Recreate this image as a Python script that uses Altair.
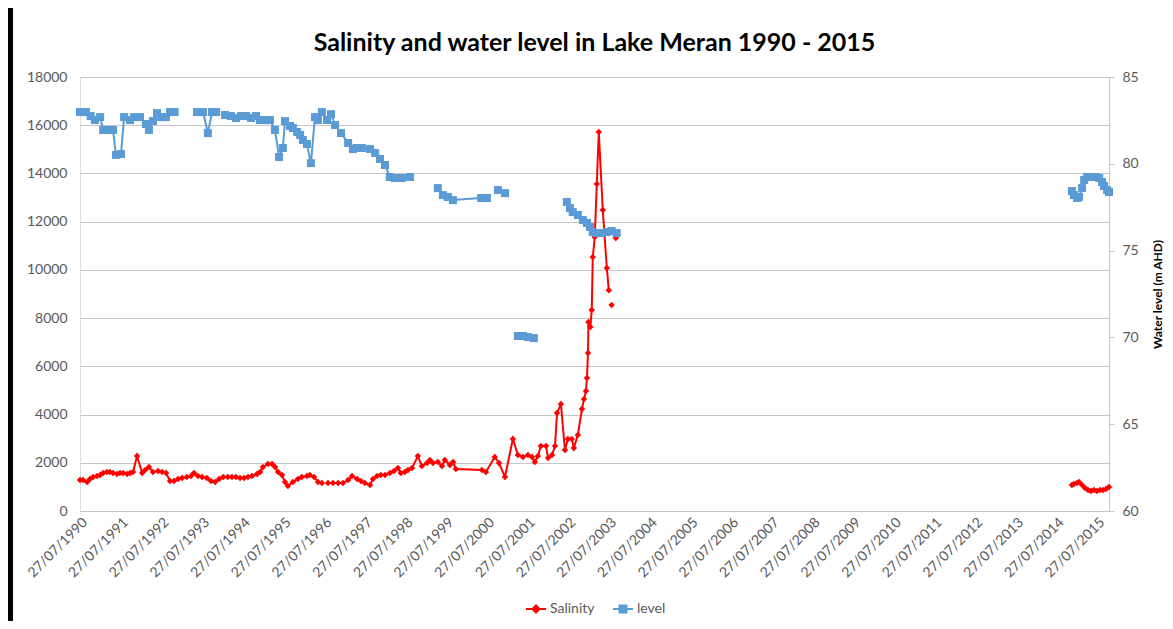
import altair as alt
import pandas as pd

# ---------------- Salinity (left axis), one list pair per unbroken run ----------------
sal_a_dates = ["1990-07-27", "1990-08-23", "1990-09-29", "1990-10-25", "1990-11-22", "1990-12-27",
               "1991-01-24", "1991-02-20", "1991-03-26", "1991-04-22", "1991-05-19", "1991-06-24",
               "1991-07-21", "1991-08-18", "1991-09-23", "1991-10-19", "1991-11-15", "1991-12-21",
               "1992-02-05", "1992-03-03", "1992-04-06", "1992-05-12", "1992-06-27", "1992-08-02",
               "1992-09-06", "1992-10-12", "1992-11-17", "1992-12-23", "1993-01-29", "1993-03-12",
               "1993-04-18", "1993-05-15", "1993-06-20", "1993-07-27", "1993-09-08", "1993-10-15",
               "1993-11-21", "1993-12-27", "1994-02-02", "1994-03-15", "1994-04-21", "1994-05-27",
               "1994-07-03", "1994-08-08", "1994-09-12", "1994-10-18", "1994-12-02", "1994-12-30",
               "1995-01-25", "1995-03-10", "1995-04-16", "1995-05-13", "1995-06-09", "1995-07-14",
               "1995-08-10", "1995-09-05", "1995-10-20", "1995-12-04", "1996-01-08", "1996-02-23",
               "1996-03-20", "1996-04-27", "1996-06-02", "1996-07-06"]
sal_a_values = [1285, 1285, 1200, 1330, 1410, 1450,
                1490, 1575, 1620, 1620, 1575, 1535,
                1575, 1575, 1535, 1575, 1620, 2280,
                1575, 1700, 1825, 1620, 1660, 1620,
                1575, 1245, 1245, 1330, 1370, 1410,
                1450, 1575, 1450, 1410, 1370, 1245,
                1200, 1330, 1410, 1410, 1410, 1410,
                1370, 1370, 1410, 1450, 1535, 1620,
                1825, 1950, 1950, 1825, 1620, 1490,
                1200, 1040, 1200, 1330, 1410, 1450,
                1490, 1410, 1200, 1160]

sal_b_dates = ["1996-08-30", "1996-10-14", "1996-11-29", "1997-01-12", "1997-02-27", "1997-04-03",
               "1997-05-18", "1997-06-22", "1997-07-27", "1997-09-11", "1997-10-08", "1997-11-14",
               "1997-12-18", "1998-01-24", "1998-03-08", "1998-04-14", "1998-05-20", "1998-06-15",
               "1998-07-21", "1998-08-18", "1998-09-24", "1998-11-15", "1998-12-21", "1999-02-05",
               "1999-03-03", "1999-03-30", "1999-05-13", "1999-06-19", "1999-07-15", "1999-08-29",
               "1999-09-27", "1999-10-22", "2000-06-12", "2000-07-18", "2000-10-05", "2000-11-12",
               "2001-01-05", "2001-03-17", "2001-05-01", "2001-06-15", "2001-07-30", "2001-09-05",
               "2001-09-30", "2001-10-27", "2001-11-23", "2002-01-08", "2002-01-27", "2002-03-03",
               "2002-03-30", "2002-04-17", "2002-05-22", "2002-06-27", "2002-07-24", "2002-08-28",
               "2002-09-15", "2002-10-21", "2002-11-27", "2002-12-15", "2003-01-02", "2003-01-11",
               "2003-01-20", "2003-01-24", "2003-02-10", "2003-02-23", "2003-03-04", "2003-03-22",
               "2003-04-09", "2003-04-27", "2003-06-02", "2003-07-08", "2003-07-26"]
sal_b_values = [1160, 1160, 1160, 1160, 1285, 1450,
                1330, 1245, 1160, 1080, 1330, 1450,
                1490, 1490, 1575, 1660, 1780, 1575,
                1620, 1700, 1780, 2280, 1865, 1990,
                2115, 1990, 2030, 1865, 2115, 1910,
                2030, 1740, 1700, 1620, 2240, 1990,
                1410, 2990, 2320, 2240, 2320, 2240,
                2030, 2280, 2700, 2700, 2200, 2320,
                2700, 4060, 4440, 2530, 2990, 2990,
                2610, 3150, 4230, 4640, 4980, 5520,
                6550, 7840, 7630, 8340, 10530, 11360,
                13560, 15720, 12480, 10080, 9160]

sal_c_dates = ["2003-08-20"]
sal_c_values = [8540]
sal_d_dates = ["2003-09-27"]
sal_d_values = [11320]

sal_e_dates = ["2014-12-12", "2014-12-30", "2015-01-27", "2015-02-14", "2015-03-13", "2015-04-09",
               "2015-05-06", "2015-06-01", "2015-06-28", "2015-07-25", "2015-08-22", "2015-09-18",
               "2015-10-15", "2015-11-10"]
sal_e_values = [1080, 1120, 1160, 1200, 1080, 950,
                870, 830, 870, 830, 870, 870,
                910, 1000]

# ---------------- Water level (right axis, m AHD) ----------------
lvl_a_dates = ["1990-07-27", "1990-09-18", "1990-10-31", "1990-12-08", "1991-01-24", "1991-02-20",
               "1991-04-05", "1991-05-19", "1991-06-15", "1991-07-30", "1991-08-27", "1991-10-19",
               "1991-11-25", "1992-01-17", "1992-03-10", "1992-04-06", "1992-05-12", "1992-06-17",
               "1992-07-24", "1992-09-06", "1992-10-12", "1992-11-22"]
lvl_a_values = [82.98, 82.98, 82.75, 82.52, 82.69, 81.95,
                81.95, 81.95, 80.51, 80.56, 82.69, 82.52,
                82.69, 82.69, 82.29, 81.95, 82.46, 82.92,
                82.69, 82.69, 82.98, 82.98]

lvl_b_dates = ["1993-06-12", "1993-08-05", "1993-09-17", "1993-10-24", "1993-11-30"]
lvl_b_values = [82.98, 82.98, 81.77, 82.98, 82.98]

lvl_c_dates = ["1994-02-18", "1994-04-12", "1994-05-27", "1994-07-11", "1994-08-25", "1994-10-09",
               "1994-11-23", "1994-12-29", "1995-02-11", "1995-03-28", "1995-05-12", "1995-06-18",
               "1995-07-22", "1995-08-10", "1995-09-24", "1995-10-20", "1995-11-27", "1995-12-24",
               "1996-01-18", "1996-02-23", "1996-03-30", "1996-05-05", "1996-06-01", "1996-07-06",
               "1996-08-21", "1996-09-26", "1996-11-02", "1996-12-25", "1997-02-27", "1997-04-11",
               "1997-05-16", "1997-06-30", "1997-09-11", "1997-10-27", "1997-12-10", "1998-01-24",
               "1998-03-08", "1998-04-23", "1998-06-24", "1998-09-05"]
lvl_c_values = [82.81, 82.75, 82.64, 82.75, 82.75, 82.64,
                82.75, 82.52, 82.52, 82.52, 81.95, 80.39,
                80.91, 82.46, 82.18, 82.06, 81.83, 81.66,
                81.37, 81.14, 80.04, 82.69, 82.52, 82.98,
                82.52, 82.86, 82.23, 81.77, 81.20, 80.85,
                80.91, 80.91, 80.85, 80.62, 80.28, 79.93,
                79.24, 79.18, 79.18, 79.24]

lvl_d_dates = ["1999-05-13", "1999-06-27", "1999-08-11", "1999-09-26", "2000-06-05", "2000-07-27"]
lvl_d_values = [78.60, 78.20, 78.09, 77.91, 78.03, 78.03]

lvl_e_dates = ["2000-11-03", "2001-01-05"]
lvl_e_values = [78.49, 78.31]

lvl_f_dates = ["2001-05-01", "2001-06-15", "2001-07-30", "2001-09-21"]
lvl_f_values = [70.08, 70.08, 70.02, 69.96]

lvl_g_dates = ["2002-07-14", "2002-08-11", "2002-09-05", "2002-10-21", "2002-12-05", "2003-01-11",
               "2003-02-07", "2003-03-04", "2003-04-09", "2003-05-24", "2003-07-08", "2003-08-20",
               "2003-10-05"]
lvl_g_values = [77.80, 77.45, 77.22, 77.05, 76.76, 76.59,
                76.36, 76.07, 76.01, 76.01, 76.07, 76.13,
                76.01]

lvl_h_dates = ["2014-12-12", "2014-12-30", "2015-01-27", "2015-02-14", "2015-03-13", "2015-04-01",
               "2015-04-27", "2015-06-01", "2015-07-08", "2015-08-14", "2015-09-09", "2015-09-27",
               "2015-10-24", "2015-11-10"]
lvl_h_values = [78.43, 78.20, 78.03, 78.09, 78.60, 79.07,
                79.24, 79.24, 79.24, 79.18, 78.95, 78.72,
                78.49, 78.37]

tick_years = list(range(1990, 2016))
sal_ticks = list(range(0, 18001, 2000))
lvl_ticks = [60, 65, 70, 75, 80, 85]

RED = "#ff0000"
BLUE = "#5b9bd5"
GRID = "#c6c6c6"
TXT = "#595959"
FONT = "Lato"


def build(runs, name):
    frames = []
    for i, (d, v) in enumerate(runs):
        frames.append(pd.DataFrame({"date": d, "value": v, "series": name, "seg": f"{name}-{i}"}))
    return pd.concat(frames, ignore_index=True)


sal_df = build([(sal_a_dates, sal_a_values), (sal_b_dates, sal_b_values), (sal_c_dates, sal_c_values),
                (sal_d_dates, sal_d_values), (sal_e_dates, sal_e_values)], "Salinity")
lvl_df = build([(lvl_a_dates, lvl_a_values), (lvl_b_dates, lvl_b_values), (lvl_c_dates, lvl_c_values),
                (lvl_d_dates, lvl_d_values), (lvl_e_dates, lvl_e_values), (lvl_f_dates, lvl_f_values),
                (lvl_g_dates, lvl_g_values), (lvl_h_dates, lvl_h_values)], "level")

x_scale = alt.Scale(type="utc", nice=False,
                    domain=[alt.DateTime(year=1990, month=7, date=27, utc=True),
                            alt.DateTime(year=2015, month=11, date=10, utc=True)])
x_axis = alt.Axis(values=[alt.DateTime(year=y, month=7, date=27, utc=True) for y in tick_years],
                  labelExpr="utcFormat(datum.value, '%d/%m/%Y')", labelAngle=-45, labelFont=FONT,
                  labelFontSize=14, labelColor=TXT, labelPadding=4, labelOverlap=False,
                  grid=False, ticks=False, tickSize=0, domain=True, domainColor=GRID, title=None)
X = alt.X("date:T", scale=x_scale, axis=x_axis)

left_axis = alt.Axis(values=sal_ticks, format="d", grid=True, gridColor=GRID, gridWidth=1, domain=False,
                     ticks=False, tickSize=0, labelPadding=13, labelFont=FONT, labelFontSize=14,
                     labelColor=TXT, title=None)
right_axis = alt.Axis(orient="right", values=lvl_ticks, format="d", grid=False, domain=True,
                      domainColor=GRID, ticks=True, tickSize=5, tickColor=GRID, labelPadding=8,
                      labelFont=FONT, labelFontSize=14, labelColor=TXT, title="Water level (m AHD)",
                      titleFont=FONT, titleFontSize=12, titleFontWeight="bold", titleColor="#000000",
                      titleAngle=270, titleX=48, titleY=217, titleAlign="center",
                      titleBaseline="middle")

sal_legend = alt.Legend(orient="none", legendX=445, legendY=521, direction="horizontal", title=None,
                        labelFont=FONT, labelFontSize=14, labelColor=TXT, padding=0,
                        symbolType="M-1,0L1,0M0,-0.35L0.35,0L0,0.35L-0.35,0Z",
                        symbolSize=400, symbolStrokeWidth=2, symbolFillColor=RED, labelOffset=3)
lvl_legend = alt.Legend(orient="none", legendX=532, legendY=521, direction="horizontal", title=None,
                        labelFont=FONT, labelFontSize=14, labelColor=TXT, padding=0,
                        symbolType="M-1,0L1,0M-0.35,-0.35H0.35V0.35H-0.35Z",
                        symbolSize=400, symbolStrokeWidth=2, symbolFillColor=BLUE, labelOffset=3)

sal_y = alt.Y("value:Q", scale=alt.Scale(domain=[0, 18000], nice=False, zero=False), axis=left_axis)
lvl_y = alt.Y("value:Q", scale=alt.Scale(domain=[60, 85], nice=False, zero=False), axis=right_axis)

sal_line = alt.Chart(sal_df).mark_line(strokeWidth=2).encode(
    x=X, y=sal_y, detail="seg:N",
    color=alt.Color("series:N", scale=alt.Scale(domain=["Salinity"], range=[RED]), legend=sal_legend))
sal_pts = alt.Chart(sal_df).mark_point(shape="diamond", filled=True, size=42, opacity=1,
                                       color=RED).encode(x=X, y=sal_y)
# black frame bar along the left edge of the picture (decoration, not data)
frame_bar = alt.Chart(pd.DataFrame({"k": [0]})).mark_rule(color="black", strokeWidth=6).encode(
    x=alt.value(-70), y=alt.value(-69), y2=alt.value(544))
sal_layer = alt.layer(sal_line, sal_pts, frame_bar)

lvl_line = alt.Chart(lvl_df).mark_line(strokeWidth=2).encode(
    x=X, y=lvl_y, detail="seg:N",
    color=alt.Color("series:N", scale=alt.Scale(domain=["level"], range=[BLUE]), legend=lvl_legend))
lvl_pts = alt.Chart(lvl_df).mark_point(shape="square", filled=True, size=64, opacity=1,
                                       color=BLUE).encode(x=X, y=lvl_y)
lvl_layer = alt.layer(lvl_line, lvl_pts)

chart = alt.layer(sal_layer, lvl_layer).resolve_scale(
    y="independent", color="independent"
).properties(
    width=1029, height=434,
    padding={"left": 72, "top": 69, "right": 56, "bottom": 110},
    autosize=alt.AutoSizeParams(type="none"),
    title=alt.TitleParams("Salinity and water level in Lake Meran 1990 - 2015", font=FONT,
                          fontSize=25, fontWeight="bold", color="#000000", anchor="middle",
                          offset=14, dy=65, frame="group"),
).configure_view(stroke=None).configure(background="white")

chart.save("out.html", embed_options={"renderer": "svg", "actions": False})
